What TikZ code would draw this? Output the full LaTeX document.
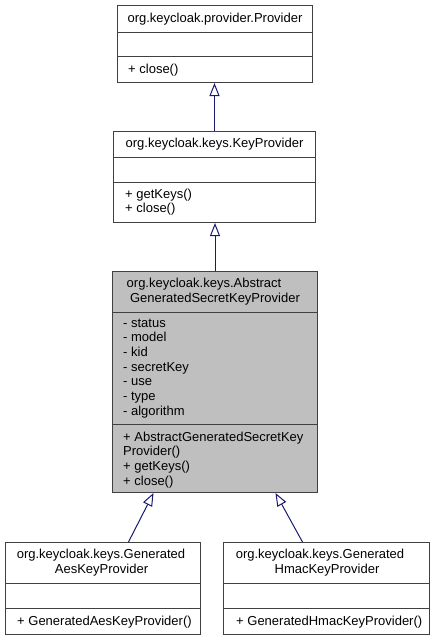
\documentclass[tikz,border=0pt]{standalone}
\usepackage{fontspec}
\setmainfont{Liberation Sans}
\usetikzlibrary{arrows.meta}
\definecolor{edgeblue}{HTML}{191970}
\definecolor{boxline}{HTML}{404040}
\definecolor{absfill}{HTML}{BFBFBF}
\begin{document}
\begin{tikzpicture}[x=1pt,y=-1pt,
  cls/.style={draw=boxline,line width=1pt,fill=white,rectangle,inner sep=0pt,anchor=north west},
  sep/.style={draw=boxline,line width=1pt},
  txt/.style={inner sep=0pt,font=\fontsize{13}{14.7}\selectfont},
  lt/.style={txt,anchor=base west},
  ct/.style={txt,anchor=base},
  inh/.style={draw=edgeblue,line width=1pt,-{Triangle[open,length=13pt,width=10pt,fill=white]}}]
\useasboundingbox (0,0) rectangle (435,640);
% boxes
\node[cls,minimum width=195pt,minimum height=77pt] (prov) at (117,5) {};
\node[cls,minimum width=202pt,minimum height=91pt] (keyp) at (113,131) {};
\node[cls,fill=absfill,minimum width=205pt,minimum height=221pt] (abs) at (112,271) {};
\node[cls,minimum width=195pt,minimum height=92pt] (aes) at (5,542) {};
\node[cls,minimum width=206pt,minimum height=92pt] (hmac) at (223,542) {};
% separators
\draw[sep] ([yshift=-27pt]prov.north west) -- ([yshift=-27pt]prov.north east);
\draw[sep] ([yshift=-51pt]prov.north west) -- ([yshift=-51pt]prov.north east);
\draw[sep] ([yshift=-26pt]keyp.north west) -- ([yshift=-26pt]keyp.north east);
\draw[sep] ([yshift=-51pt]keyp.north west) -- ([yshift=-51pt]keyp.north east);
\draw[sep] ([yshift=-41pt]abs.north west) -- ([yshift=-41pt]abs.north east);
\draw[sep] ([yshift=-153pt]abs.north west) -- ([yshift=-153pt]abs.north east);
\draw[sep] ([yshift=-41pt]aes.north west) -- ([yshift=-41pt]aes.north east);
\draw[sep] ([yshift=-66pt]aes.north west) -- ([yshift=-66pt]aes.north east);
\draw[sep] ([yshift=-41pt]hmac.north west) -- ([yshift=-41pt]hmac.north east);
\draw[sep] ([yshift=-66pt]hmac.north west) -- ([yshift=-66pt]hmac.north east);
% texts: Provider
\node[ct] (t1) at (215,22) {org.keycloak.provider.Provider};
\node[lt] (t2) at (128,73) {+ close()};
% KeyProvider
\node[ct] (t3) at (214.5,147) {org.keycloak.keys.KeyProvider};
\node[lt] (t4) at (125,198) {+ getKeys()};
\node[lt] (t5) at (125,212.7) {+ close()};
% Abstract
\node[ct] (t6) at (204,287) {org.keycloak.keys.Abstract};
\node[ct] (t7) at (215,302) {GeneratedSecretKeyProvider};
\node[lt] (a1) at (123,327) {- status};
\node[lt] (a2) at (123,341.7) {- model};
\node[lt] (a3) at (123,356.4) {- kid};
\node[lt] (a4) at (123,371.1) {- secretKey};
\node[lt] (a5) at (123,385.8) {- use};
\node[lt] (a6) at (123,400.5) {- type};
\node[lt] (a7) at (123,415.2) {- algorithm};
\node[lt] (m1) at (123,441) {+ AbstractGeneratedSecretKey};
\node[lt] (m2) at (123,455.7) {Provider()};
\node[lt] (m3) at (123,470.4) {+ getKeys()};
\node[lt] (m4) at (123,485.1) {+ close()};
% Aes
\node[ct] (t8) at (101,558) {org.keycloak.keys.Generated};
\node[ct] (t9) at (101.5,573) {AesKeyProvider};
\node[lt] (t10) at (17,625) {+ GeneratedAesKeyProvider()};
% Hmac
\node[ct] (t11) at (320,558) {org.keycloak.keys.Generated};
\node[ct] (t12) at (327,573) {HmacKeyProvider};
\node[lt] (t13) at (236,625) {+ GeneratedHmacKeyProvider()};
% inheritance
\draw[inh] (keyp.north) -- (keyp.north |- prov.south);
\draw[inh] (abs.north) -- (abs.north |- keyp.south);
\draw[inh] ([xshift=25.5pt]aes.north) -- ([xshift=-61.5pt]abs.south);
\draw[inh] ([xshift=-24pt]hmac.north) -- ([xshift=60.5pt]abs.south);
\end{tikzpicture}
\end{document}
